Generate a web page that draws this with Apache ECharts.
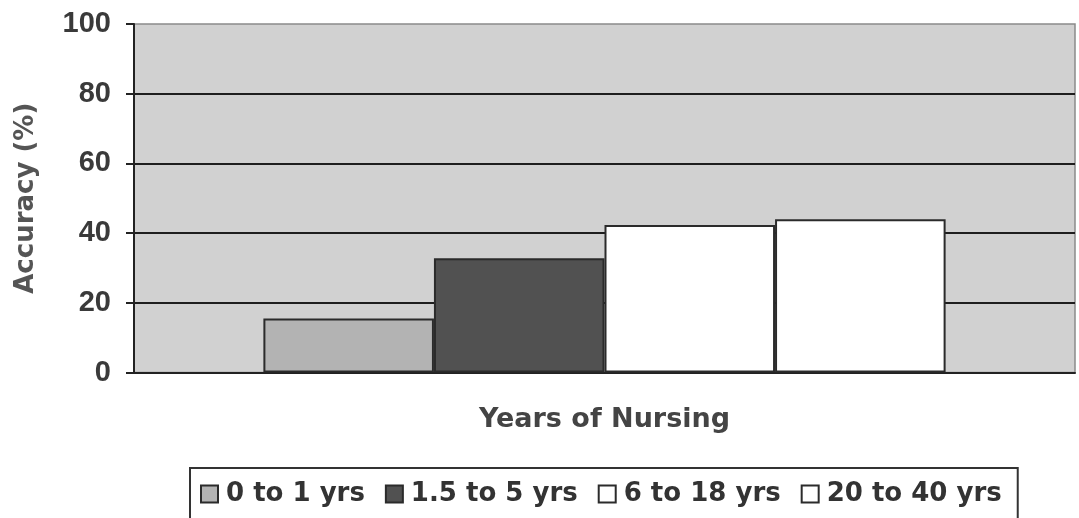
<!DOCTYPE html>
<html>
<head>
<meta charset="utf-8">
<script src="https://cdn.jsdelivr.net/npm/echarts@6/dist/echarts.min.js"></script>
<style>
html,body{margin:0;padding:0;background:#fff;}
#chart{width:1079px;height:518px;}
</style>
</head>
<body>
<div id="chart"></div>
<script>
// Data
const categories = ['Years of Nursing'];
const seriesNames = ['0 to 1 yrs', '1.5 to 5 yrs', '6 to 18 yrs', '20 to 40 yrs'];
const seriesValues = [15.5, 32.8, 42.3, 44.0];
const yTicks = [0, 20, 40, 60, 80, 100];

const barColors = ['#b3b3b3', '#515151', '#ffffff', '#ffffff'];

const chart = echarts.init(document.getElementById('chart'), null, {renderer: 'canvas'});

const series = seriesNames.map((name, i) => ({
  name: name,
  type: 'bar',
  data: [seriesValues[i]],
  barGap: '0%',
  barCategoryGap: '27.5%',
  itemStyle: { color: barColors[i], borderColor: '#2b2b2b', borderWidth: 2 },
  emphasis: { disabled: true },
  animation: false
}));

chart.setOption({
  animation: false,
  backgroundColor: '#ffffff',
  grid: {
    left: 134, right: 4, top: 24, bottom: 145.5,
    show: true, backgroundColor: '#d1d1d1', borderColor: '#8a8a8a', borderWidth: 1.5
  },
  legend: {
    left: 190, top: 468,
    padding: [13, 16, 40, 10],
    itemGap: 20, itemWidth: 17, itemHeight: 17,
    icon: 'rect',
    borderColor: '#333', borderWidth: 2,
    data: seriesNames,
    textStyle: { fontFamily: 'DejaVu Sans', fontWeight: 'bold', fontSize: 26, color: '#333', padding: [0, 0, 0, 3] }
  },
  xAxis: {
    type: 'category',
    data: categories,
    name: 'Years of Nursing',
    nameLocation: 'middle',
    nameGap: 34,
    nameTextStyle: { fontFamily: 'DejaVu Sans', fontWeight: 'bold', fontSize: 27, color: '#444' },
    axisLine: { show: true, lineStyle: { color: '#222', width: 2 } },
    axisTick: { show: false },
    axisLabel: { show: false },
    splitLine: { show: false }
  },
  yAxis: {
    type: 'value',
    min: yTicks[0], max: yTicks[yTicks.length - 1], interval: 20,
    name: 'Accuracy (%)',
    nameLocation: 'middle',
    nameRotate: 90,
    nameGap: 95,
    nameTextStyle: { fontFamily: 'DejaVu Sans', fontWeight: 'bold', fontSize: 26, color: '#555' },
    axisLine: { show: true, lineStyle: { color: '#222', width: 2 } },
    axisTick: { show: true, length: 8, lineStyle: { color: '#222', width: 2 } },
    axisLabel: { margin: 23, fontFamily: 'Liberation Sans', fontWeight: 'bold', fontSize: 29, color: '#3a3a3a' },
    splitLine: { show: true, showMaxLine: false, showMinLine: false, lineStyle: { color: '#1e1e1e', width: 2 } }
  },
  series: series
});
</script>
</body>
</html>
